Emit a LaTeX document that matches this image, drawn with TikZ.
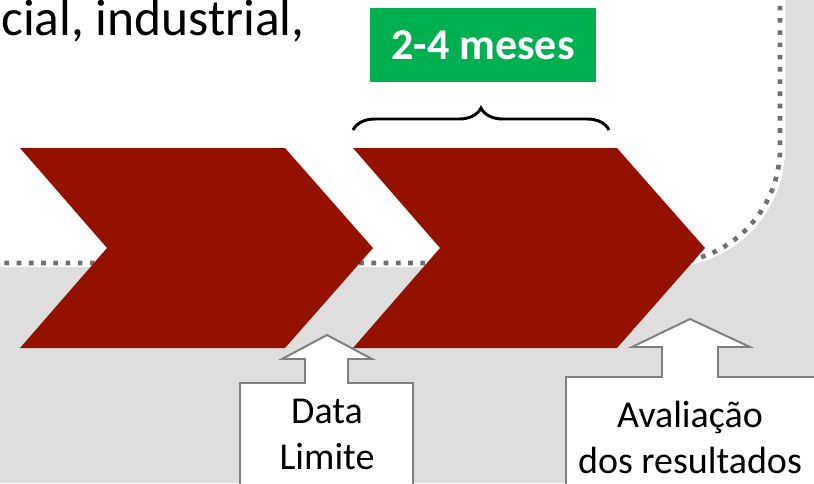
\documentclass[tikz,border=0pt]{standalone}
\usepackage{fontspec}
\setmainfont{Carlito}
\usetikzlibrary{decorations.pathreplacing}
\definecolor{chevronred}{RGB}{148,17,0}
\definecolor{monthgreen}{RGB}{0,176,80}
\definecolor{bggray}{RGB}{222,222,222}
\definecolor{dotgray}{RGB}{112,112,112}
\definecolor{edgegray}{RGB}{127,127,127}
\tikzstyle{chevron} = [fill=chevronred]
\tikzstyle{callout} = [draw=edgegray, fill=white, line width=1.4pt]
\tikzstyle{calltext} = [align=center, inner sep=0pt, font=\fontsize{27}{32.7}\selectfont]
\tikzstyle{border} = [draw=dotgray, line width=3.3pt, dash pattern=on 3.3pt off 5.4pt]

\begin{document}
\begin{tikzpicture}[x = 0.025cm, y = -0.025cm]

% ----------------------------------------------------
% frame: one unit is one pixel of the sketch, y runs down
\useasboundingbox (0,0) rectangle (814,483);
\clip (0,0) rectangle (814,483);
% ----------------------------------------------------

  % gray band with the white rounded area above it
  \fill[bggray] (0,0) rectangle (814,483);
  \fill[white, rounded corners=2.95cm] (-300,-300) -- (785,-300) -- (785,267) -- (-300,267) -- cycle;
  \draw[border, rounded corners=2.875cm] (780,-300) -- (780,263) -- (-300,263);

  \node (heading) [anchor=base east, inner sep=0pt, font=\fontsize{36.6}{44}\selectfont] at (305,35) {cial, industrial,};

  % the two phases
  \fill[chevron] (20,148) -- (285,148) -- (373,248) -- (285,348) -- (20,348) -- (107,248) -- cycle;
  \fill[chevron] (353,148) -- (617,148) -- (705,248) -- (617,348) -- (353,348) -- (440,248) -- cycle;

  % duration
  \node (months) [fill=monthgreen, text=white, inner sep=0pt, minimum width=5.65cm, minimum height=1.85cm,
    font=\bfseries\fontsize{31.3}{37}\selectfont] at (483,45) {2-4 meses};
  \coordinate (bracestart) at (353,130);
  \coordinate (braceend) at (609,130);
  \draw[decorate, decoration={brace, amplitude=0.55cm}, line width=2.1pt] (bracestart) -- (braceend);

  % milestones
  \draw[callout] (240,500) -- (240,383) -- (305,383) -- (305,359) -- (282,359) -- (327,335)
    -- (372,359) -- (348,359) -- (348,383) -- (413,383) -- (413,500);
  \node (deadline) [calltext] at (327,434) {Data\\Limite};

  \draw[callout] (566,500) -- (566,377) -- (662,377) -- (662,347) -- (632,347) -- (690,319)
    -- (750,347) -- (718,347) -- (718,377) -- (830,377) -- (830,500);
  \node (review) [calltext] at (690,437) {Avaliação\\dos resultados};

\end{tikzpicture}
\end{document}
